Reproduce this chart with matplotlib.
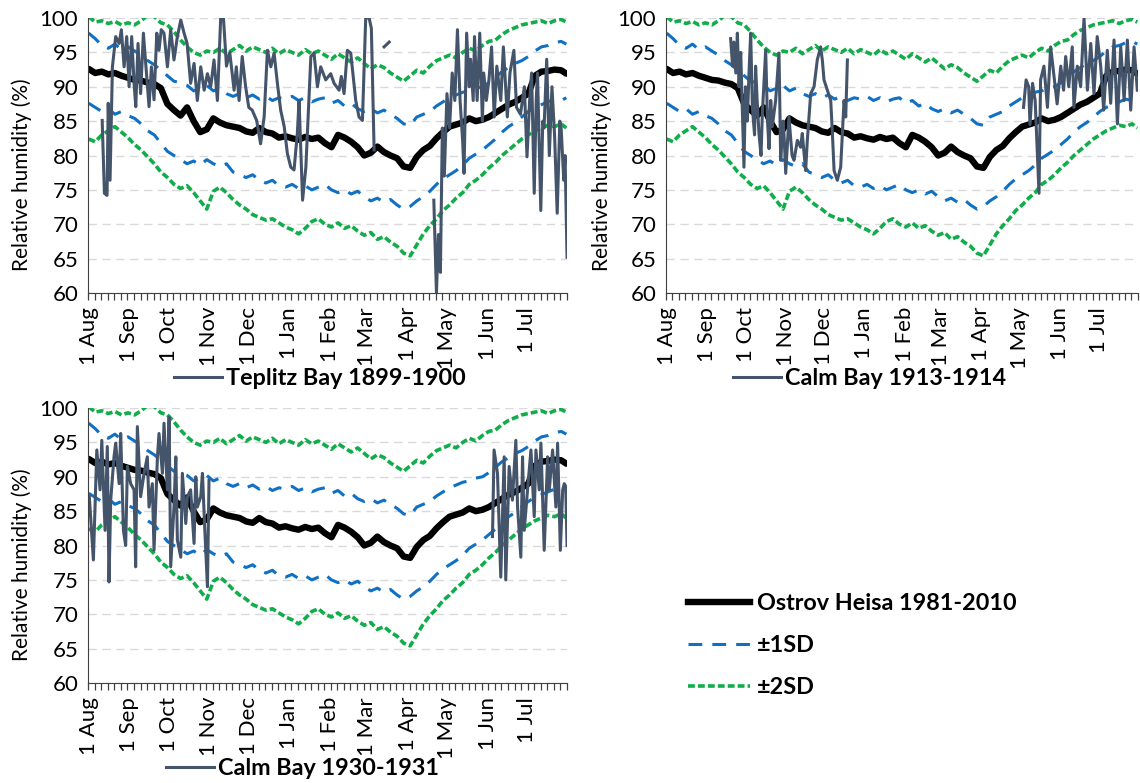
import numpy as np
import matplotlib
matplotlib.use("Agg")
import matplotlib.pyplot as plt
from matplotlib.lines import Line2D

plt.rcParams["font.family"] = ["Lato", "DejaVu Sans"]

nan = float("nan")

# day of year counted from 1 Aug (0) to 31 Jul (364)
month_start = [0, 31, 61, 92, 122, 153, 184, 212, 243, 273, 304, 334]
month_labels = ["1 Aug", "1 Sep", "1 Oct", "1 Nov", "1 Dec", "1 Jan",
                "1 Feb", "1 Mar", "1 Apr", "1 May", "1 Jun", "1 Jul"]

# Ostrov Heisa 1981-2010 climatology, read every 5 days
clim_day = list(range(0, 365, 5)) + [364]
clim_mean = [92.6, 92.0, 92.2, 91.8, 92.0, 91.6, 91.3, 91.0, 90.9, 90.6,
             90.4, 89.8, 87.5, 86.6, 85.8, 87.0, 85.0, 83.4, 83.8, 85.4,
             84.8, 84.4, 84.2, 84.0, 83.5, 83.3, 84.0, 83.4, 83.2, 82.6,
             82.8, 82.5, 82.3, 82.7, 82.4, 82.6, 81.8, 81.2, 83.0, 82.6,
             82.0, 81.2, 80.0, 80.4, 81.3, 80.5, 80.0, 79.6, 78.4, 78.2,
             79.8, 80.8, 81.4, 82.5, 83.4, 84.2, 84.5, 84.8, 85.4, 85.0,
             85.2, 85.6, 86.2, 86.8, 87.4, 87.8, 88.4, 89.0, 91.6, 92.2,
             92.3, 92.5, 92.4, 91.9]
sd2_upper = [100.2, 99.4, 99.6, 99.2, 99.5, 99.0, 99.3, 99.0, 99.6, 100.4,
             100.2, 99.3, 99.0, 98.0, 96.8, 95.8, 95.0, 94.6, 95.2, 95.0,
             95.6, 94.8, 95.4, 96.0, 95.2, 95.8, 95.4, 95.0, 95.6, 94.8,
             95.4, 95.0, 94.6, 95.4, 94.8, 95.2, 94.6, 94.0, 94.8, 94.2,
             93.6, 94.2, 93.4, 92.6, 93.2, 92.8, 92.0, 91.4, 90.8, 91.6,
             92.4, 92.0, 93.0, 93.8, 94.2, 94.6, 94.2, 95.0, 95.6, 95.2,
             96.0, 96.6, 96.8, 97.6, 98.2, 98.6, 99.0, 99.2, 99.4, 99.6,
             99.2, 99.6, 99.8, 99.4]
sd1_upper = [97.8, 97.0, 96.0, 95.6, 96.2, 95.4, 95.8, 95.2, 94.6, 93.8,
             93.2, 92.4, 91.6, 90.8, 90.6, 90.2, 89.4, 89.8, 90.2, 89.4,
             89.8, 89.0, 88.6, 89.0, 88.4, 88.8, 88.2, 88.6, 88.0, 88.4,
             88.2, 88.6, 88.0, 88.4, 87.8, 88.2, 88.4, 87.6, 88.0, 87.2,
             87.6, 86.8, 86.4, 86.8, 86.2, 86.6, 86.0, 85.4, 84.6, 84.4,
             85.6, 86.0, 86.4, 87.2, 87.8, 88.4, 88.8, 89.2, 89.4, 89.8,
             90.0, 90.6, 91.4, 92.2, 92.8, 93.4, 93.8, 94.4, 95.2, 95.8,
             96.0, 96.4, 96.6, 96.2]
sd1_lower = [87.6, 87.0, 86.4, 86.8, 86.0, 86.4, 85.8, 85.4, 84.6, 83.6,
             83.0, 81.8, 80.6, 80.0, 79.4, 78.8, 79.2, 78.6, 79.4, 78.8,
             78.4, 78.8, 77.6, 77.2, 76.8, 77.2, 76.4, 76.0, 76.4, 75.6,
             75.4, 75.8, 75.2, 75.6, 75.0, 75.4, 75.8, 75.0, 74.6, 75.0,
             74.4, 74.8, 74.0, 73.4, 73.8, 73.2, 73.6, 72.8, 72.2, 72.6,
             73.4, 74.0, 74.8, 75.8, 76.6, 77.2, 77.8, 78.6, 79.6, 80.2,
             80.8, 81.6, 82.4, 83.4, 84.2, 84.8, 85.6, 86.4, 87.0, 87.4,
             87.8, 88.2, 88.0, 88.4]
sd2_lower = [82.4, 82.0, 83.0, 83.6, 84.2, 83.4, 82.6, 81.6, 80.8, 79.8,
             78.8, 77.6, 76.8, 75.8, 75.2, 75.6, 74.6, 73.4, 72.2, 74.8,
             75.4, 74.6, 73.6, 72.8, 72.2, 71.4, 71.0, 70.6, 70.8, 70.2,
             69.6, 69.2, 68.6, 69.4, 70.4, 70.8, 70.0, 69.6, 70.2, 69.4,
             69.8, 69.0, 68.4, 68.8, 67.8, 68.2, 67.4, 66.8, 65.8, 65.4,
             67.0, 68.6, 69.8, 70.8, 72.0, 72.8, 73.8, 74.6, 75.8, 76.4,
             77.2, 78.2, 79.0, 80.0, 80.8, 81.6, 82.4, 83.0, 83.6, 84.0,
             84.4, 84.2, 84.6, 84.0]

# Teplitz Bay 1899-1900 (nan = missing data)
teplitz_day = [10.3, 12, 14, 14.9, 16.3, 18.1, 20.6, 23.2, 24.9, 27, 29, 30.8, 32.8, 34.6, 35.9,
               37.6, 39.6, 41.7, 43.7, 46, 47.8, 49.8, 51.9, 53.6, 55.3, 57.4, 60, 62.5, 65, 67.6,
               70.2, 72.7, 75, 77.7, 80.3, 82.8, 85.4, 88, 90.5, 93, 95.5, 98.1, 100.6, 102.7, 105,
               107.5, 110.8, 112.5, 114.6, 117, 119.6, 122, 124.6, 128, 131, 133.7, 136.2, 138.8,
               141.3, 143.8, 146.3, 149, 151.4, 154, 156.5, 159, 160.3, 163, 165.5, 169.3, 171.7,
               174.3, 176.8, 180.6, 184.4, 187, 190.8, 192.5, 194.6, 197.1, 199.7, 203.5, 206,
               208.6, 211.1, 213.7, 215.4, 217.5, nan, 225.1, 229, nan,
               263, 265, 266.5, 268, 269.5, 271, 273, 275, 277, 279, 281, 283, 285, 286, 288, 290,
               291, 293, 294, 296, 298, 300, 301, 303, 305, 307, 309, 311, 314, 316, 319, 321, 324,
               326, 329, 332, 334, 336, 337.5, 339.5, 341, 342, 344.5, 346, 347, 349, 351, 353,
               355, 357, 359, 360, 362, 363, 364.5]
teplitz_rh = [85.1, 74.5, 74.2, 87.6, 76.4, 92.9, 97.3, 96.3, 98.3, 92.9, 97.3, 90.0, 97.3, 90.5, 87.1,
              96.3, 89.0, 97.8, 92.9, 87.1, 92.9, 88.1, 97.8, 95.3, 98.3, 97.8, 92.9, 98.3, 93.9, 97.3,
              99.7, 97.8, 96.3, 90.5, 93.4, 88.0, 92.9, 89.5, 91.9, 90.0, 93.9, 88.0, 100.0, 100.0, 93.0,
              95.0, 89.5, 92.9, 88.0, 94.4, 90.0, 87.0, 86.6, 85.1, 81.7, 85.6, 95.3, 92.9,
              94.9, 90.5, 86.6, 84.2, 80.3, 78.3, 77.9, 83.2, 88.0, 73.5, 78.3, 94.4, 94.9,
              90.0, 92.9, 91.0, 91.9, 90.5, 89.5, 91.5, 89.0, 95.3, 94.9, 88.0, 85.6,
              85.1, 100.0, 100.0, 98.5, 80.8, nan, 95.8, 96.5, nan,
              73.5, 60.0, 68.5, 63.0, 84.0, 77.0, 89.0, 84.0, 92.0, 88.0, 98.3, 88.0, 82.0, 77.4, 97.8, 90.0,
              94.0, 88.0, 97.3, 88.0, 97.8, 85.0, 92.0, 88.0, 91.0, 95.8, 85.6, 93.0, 88.0, 95.8, 85.6, 92.0, 95.3,
              87.0, 86.0, 90.0, 79.8, 88.0, 92.0, 74.5, 88.0, 92.0, 72.0, 85.0, 84.0, 94.0, 80.0, 90.0,
              83.0, 71.6, 85.0, 84.0, 76.4, 80.0, 65.2]

# Calm Bay 1913-1914
calm1913_day = [49.5, 51, 52, 53.5, 54.7, 56, 57.3, 59.8, 61, 62.4, 63.7, 65, 66.3, 68, 68.8, 70,
                71.4, 73, 74, 76.6, 78, 79.2, 80.5, 81.7, 84.3, 86.9, 88.2, 90, 90.8, 92.1, 94.6,
                97, 98.5, 101.1, 103.6, 104.9, 107.5, 108.8, 111.4, 114, 116.5, 119.1, 120.4,
                121.7, 124.3, 126.9, 128.2, 129.5, 132, 134.6, 137.2, 138.5, 139.8, nan,
                276, 278, 280, 281, 283, 285, 288, 289.2, 291.8, 294.5, 297, 299.6, 302, 304.8,
                307, 308.6, 311, 313.7, 315, 317.6, 320.2, 322.8, 325.4, 328, 330.5, 333, 335.7,
                338, 340.8, 343.4, 346, 348.6, 351.2, 353.8, 356.3, 358.9, 361.5, 364]
calm1913_rh = [97.0, 93.0, 96.5, 92.0, 97.8, 90.0, 95.0, 78.3, 90.0, 85.0, 92.0, 97.8, 87.0, 83.0, 93.0, 88.0,
               83.2, 80.0, 86.0, 95.3, 85.0, 81.0, 88.0, 84.2, 88.0, 94.9, 79.3, 85.0, 83.0, 77.4, 85.6,
               80.0, 79.3, 82.2, 81.2, 83.2, 77.8, 82.2, 89.0, 90.0, 93.9, 95.8, 93.9,
               91.0, 89.5, 88.0, 83.2, 77.8, 76.4, 78.3, 88.0, 85.6, 93.9, nan,
               87.0, 91.0, 90.0, 84.5, 90.5, 88.0, 74.5, 91.0, 93.0, 87.0, 95.8, 91.5, 87.5, 93.0,
               89.5, 94.4, 90.0, 95.8, 87.0, 93.0, 90.0, 100.0, 89.5, 96.3, 89.0, 97.3, 93.0,
               86.6, 95.3, 87.6, 96.8, 84.6, 95.8, 88.0, 96.8, 86.6, 95.8, 89.5]

# Calm Bay 1930-1931
calm1930_day = [0.5, 3.6, 6.2, 8.7, 10, 12.5, 14.2, 15.5, 16.8, 19.3, 20.6, 23.2, 24.4, 26.5, 28.2,
                29.5, 32, 34.6, 35.8, 37.1, 39.6, 42.2, 44.7, 46, 48.5, 49.8, 52.4, 53.6, 56.2, 57.4,
                60, 61.3, 62.5, 65, 66.4, 67.6, 70.2, 71.4, 74, 75.2, 77.7, 80.3, 81.6, 82.8, 85.4,
                86.7, 88.4, 90.5, 91.7, nan,
                307.7, 308.9, 311.5, 314, 316.6, 317.8, 320.4, 322.9, 325.5, 326.8, 329.3, 330.6,
                331.9, 334.4, 337, 339.5, 340.8, 343.3, 344.6, 347.1, 349.7, 351, 353.5, 356, 357.3,
                359.4, 361.2, 362.4, 363.5, 364.5]
calm1930_rh = [87.1, 77.9, 93.9, 88.1, 95.3, 82.2, 94.4, 74.7, 86.6, 92.9, 94.9, 89.0, 96.3, 82.2, 80.0,
               91.5, 89.0, 88.1, 76.9, 97.3, 87.1, 90.5, 92.9, 85.6, 89.0, 79.3, 92.9, 96.3, 90.5, 97.8,
               88.1, 98.7, 76.9, 85.6, 92.9, 80.8, 78.3, 90.5, 83.2, 87.1, 88.1, 80.3, 90.0, 85.6, 87.1,
               90.5, 82.7, 74.0, 89.5, nan,
               81.3, 93.9, 90.5, 75.4, 92.9, 75.0, 91.5, 86.6, 95.3, 85.6, 78.3, 92.9,
               82.2, 88.1, 93.9, 84.2, 93.9, 88.1, 94.9, 79.3, 92.9, 88.1, 93.9, 85.6, 94.9,
               79.3, 88.1, 89.0, 88.6, 80.0]

BLACK = "#000000"
BLUE = "#1070C4"
GREEN = "#12AD4B"
GRAY = "#44546A"
FS = 16
LEG_FS = 16.8


def draw_panel(ax, days, rh, name, leg_x, ylab_x):
    x = np.asarray(clim_day) + 0.5
    for band in (sd2_upper, sd2_lower):
        ax.plot(x, band, color=GREEN, lw=2.6, dashes=(1.9, 0.85))
    for band in (sd1_upper, sd1_lower):
        ax.plot(x, band, color=BLUE, lw=2.2, dashes=(4.5, 3.3))
    ax.plot(x, clim_mean, color=BLACK, lw=4.6, solid_capstyle="round")
    line, = ax.plot(np.asarray(days) + 0.5, rh, color=GRAY, lw=2.2)

    ax.set_xlim(0, 365)
    ax.set_ylim(60, 100)
    ax.set_yticks(np.arange(60, 101, 5))
    ax.set_xticks(np.arange(0, 366, 5), minor=True)
    ax.set_xticks(np.asarray(month_start) + 0.5)
    ax.set_xticklabels(month_labels, rotation=90)
    ax.tick_params(axis="x", which="major", length=0, pad=10, labelsize=FS)
    ax.tick_params(axis="x", which="minor", length=5, width=0.9, color="#404040", direction="out")
    ax.tick_params(axis="y", length=0, pad=7, labelsize=FS)
    ax.set_ylabel("Relative humidity (%)", fontsize=15)
    ax.yaxis.set_label_coords(ylab_x, 0.431)
    ax.yaxis.grid(True, color="#D9D9D9", lw=1, dashes=(6, 4))
    ax.set_axisbelow(True)
    for side in ("top", "right"):
        ax.spines[side].set_visible(False)
    ax.spines["left"].set_color("#404040")
    ax.spines["bottom"].set_color("#404040")

    ax.legend([line], [name], loc="center", bbox_to_anchor=(leg_x, -0.31), frameon=False,
              prop={"weight": "bold", "size": LEG_FS}, handlelength=2.05, handletextpad=0.17)
    return line


fig = plt.figure(figsize=(11.4, 7.83), dpi=100)
ax1 = fig.add_axes([0.0772, 0.6258, 0.4202, 0.3512])
ax2 = fig.add_axes([0.5842, 0.6258, 0.4140, 0.3512])
ax3 = fig.add_axes([0.0772, 0.1277, 0.4202, 0.3512])

draw_panel(ax1, teplitz_day, teplitz_rh, "Teplitz Bay 1899-1900", 0.484, -0.117)
draw_panel(ax2, calm1913_day, calm1913_rh, "Calm Bay 1913-1914", 0.432, -0.114)
draw_panel(ax3, calm1930_day, calm1930_rh, "Calm Bay 1930-1931", 0.448, -0.117)

handles = [Line2D([], [], color=BLACK, lw=4.6),
           Line2D([], [], color=BLUE, lw=2.2, dashes=(4.5, 3.3)),
           Line2D([], [], color=GREEN, lw=2.6, dashes=(1.9, 0.85))]
fig.legend(handles, ["Ostrov Heisa 1981-2010", "±1SD", "±2SD"], loc="upper left",
           bbox_to_anchor=(0.6035, 0.2425), frameon=False, borderpad=0, borderaxespad=0,
           prop={"weight": "bold", "size": LEG_FS}, handlelength=2.66, handletextpad=0.3,
           labelspacing=0.9)

fig.savefig("out.png", dpi=100)
